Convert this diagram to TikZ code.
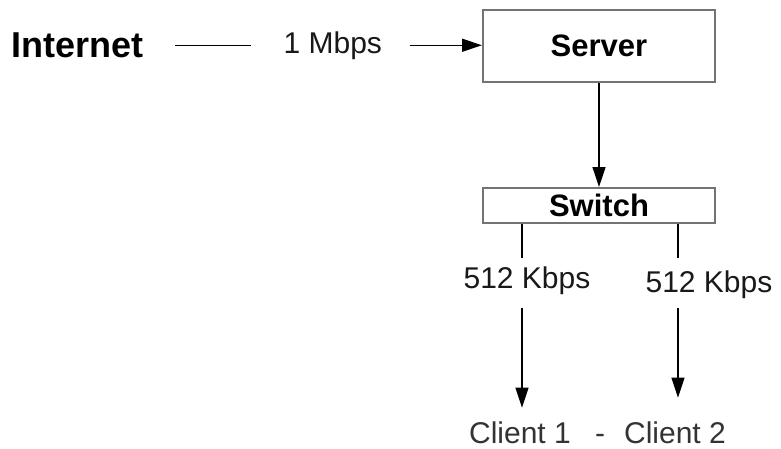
\documentclass[tikz,border=0pt]{standalone}
\usepackage{fontspec}
\setmainfont{Liberation Sans}
\usetikzlibrary{arrows.meta}

\begin{document}
\begin{tikzpicture}[x=1pt,y=-1pt]
        \tikzstyle{every path}=[line width=1.3pt]

        \edef\boxwidth{232pt}
        \tikzstyle{hw}=[draw=black!55,line width=2pt,minimum width=\boxwidth,inner sep=0pt,font=\fontsize{31}{34}\selectfont\bfseries]
        \tikzstyle{rate}=[inner sep=0pt,text=black!90,font=\fontsize{30}{33}\selectfont]
        \tikzstyle{client}=[inner sep=0pt,anchor=base,text=black!80,font=\fontsize{30}{33}\selectfont]
        \tikzstyle{link}=[-{Triangle[length=20pt,width=13pt]}]

        \useasboundingbox (0,0) rectangle (781,448);

        \node [inner sep=0pt,anchor=base west,font=\fontsize{36}{40}\selectfont\bfseries] (internet) at (11,57) {Internet};
        \node [rate,anchor=base west] (mbps) at (283,53) {1 Mbps};
        \node [hw,minimum height=72pt] (server) at (599,46) {Server};
        \node [hw,minimum height=35pt] (switch) at (599,205.5) {Switch};

        \coordinate (port1) at ([xshift=40pt]switch.south west);
        \coordinate (port2) at ([xshift=-38pt]switch.south east);

        \node [rate,anchor=base] (rate1) at (527,288) {512 Kbps};
        \node [rate,anchor=base] (rate2) at (709,292) {512 Kbps};

        \node [client] (client1) at (520,443) {Client 1};
        \node [client] (sep) at (600,443) {-};
        \node [client] (client2) at (675,443) {Client 2};

        \draw [shorten <=31pt,shorten >=32pt] (mbps.west -| internet.east) -- (mbps.west);  % internet--1 Mbps
        \draw [link,shorten <=27pt] (mbps.east) -- (mbps.east -| server.west);              % 1 Mbps->server
        \draw [link] (server) -- (switch);                                                  % server->switch
        \draw [shorten >=8pt] (port1) -- (port1 |- rate1.north);                            % switch--512
        \draw [link,shorten <=13pt,shorten >=13pt] (port1 |- rate1.south) -- (port1 |- client1.north); % 512->client 1
        \draw [shorten >=12pt] (port2) -- (port2 |- rate2.north);                           % switch--512
        \draw [link,shorten <=9pt,shorten >=23pt] (port2 |- rate2.south) -- (port2 |- client2.north);  % 512->client 2
\end{tikzpicture}
\end{document}
